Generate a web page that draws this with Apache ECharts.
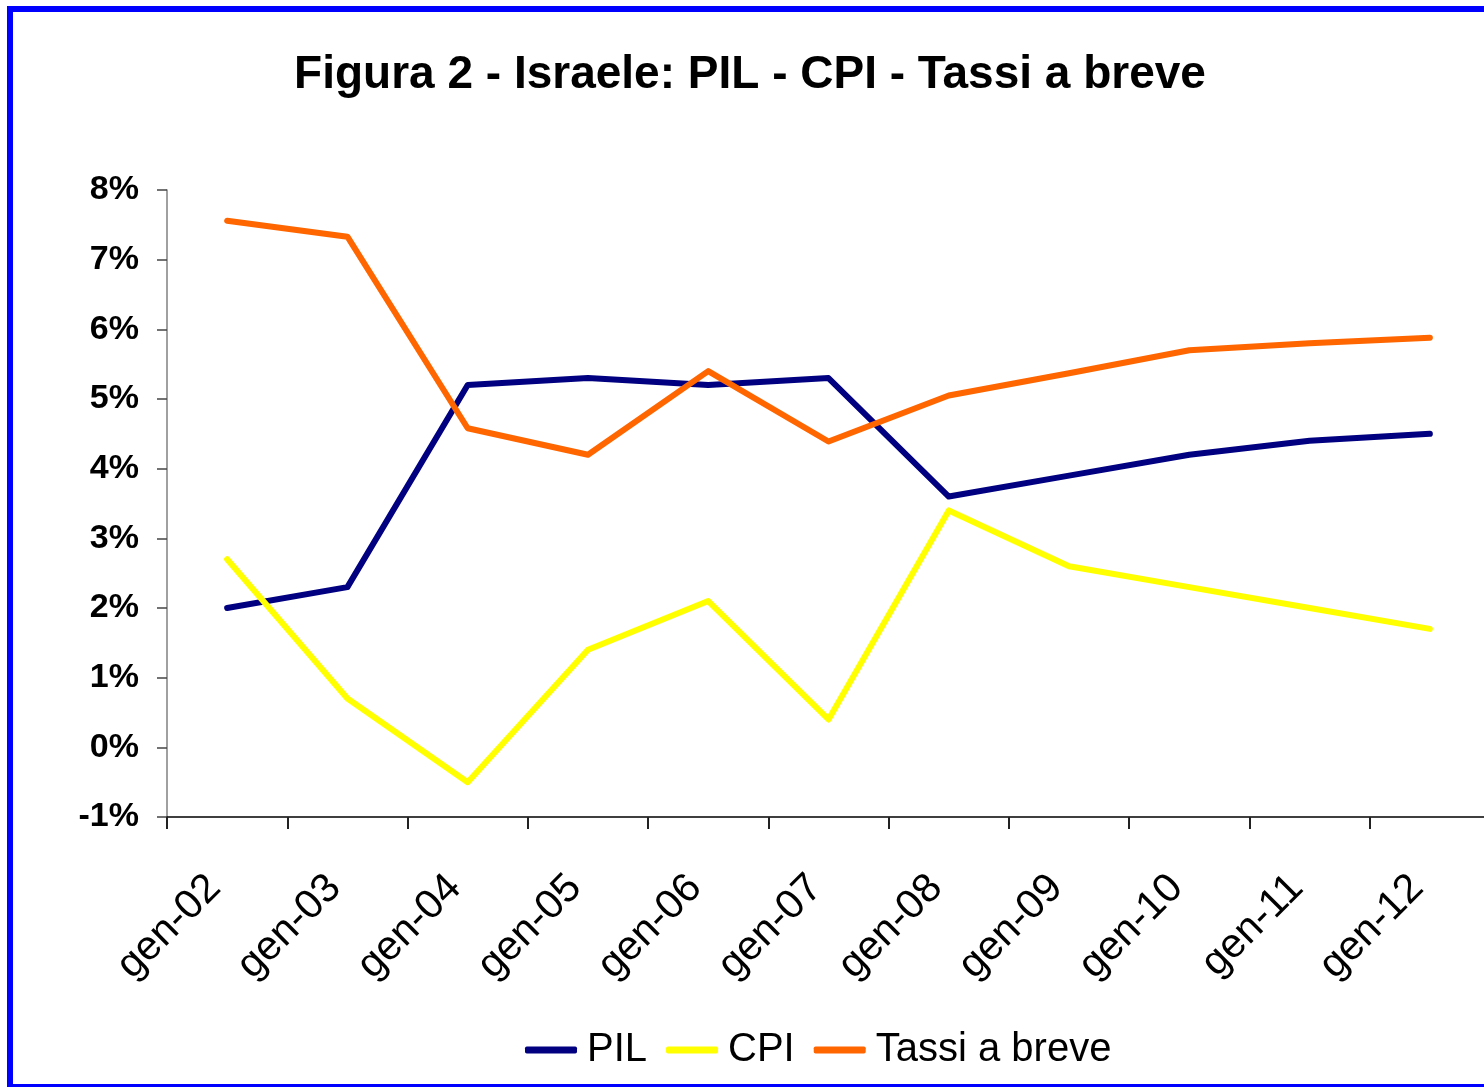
<!DOCTYPE html>
<html lang="it">
<head>
<meta charset="UTF-8">
<title>Figura 2 - Israele</title>
<script src="https://cdn.jsdelivr.net/npm/echarts@6/dist/echarts.min.js"></script>
<style>
  html, body { margin: 0; padding: 0; overflow: hidden; background: #fff; }
  #frame { position: absolute; left: 7px; top: 6px; width: 1520px; height: 1072px; border: 6px solid #0000ff; border-bottom-width: 3px; }
  #chart { position: absolute; left: 0; top: 0; width: 1500px; height: 1087px; }
</style>
</head>
<body>
<div id="chart"></div>
<div id="frame"></div>
<script type="text/javascript">
    var anni = ['gen-02', 'gen-03', 'gen-04', 'gen-05', 'gen-06', 'gen-07', 'gen-08', 'gen-09', 'gen-10', 'gen-11', 'gen-12'];
    var pil = [2.0, 2.3, 5.2, 5.3, 5.2, 5.3, 3.6, 3.9, 4.2, 4.4, 4.5];
    var cpi = [2.7, 0.7, -0.5, 1.4, 2.1, 0.4, 3.4, 2.6, 2.3, 2.0, 1.7];
    var tassi = [7.56, 7.33, 4.58, 4.2, 5.4, 4.39, 5.05, 5.37, 5.7, 5.8, 5.88];

    var font = '"Liberation Sans", Arial, sans-serif';
    var myChart = echarts.init(document.getElementById('chart'));

    function serie(nome, dati, colore) {
        return {
            name: nome,
            type: 'line',
            data: dati,
            symbol: 'none',
            lineStyle: { color: colore, width: 6, cap: 'round', join: 'round' },
            itemStyle: { color: colore },
            animation: false
        };
    }

    myChart.setOption({
        title: {
            text: 'Figura 2 - Israele: PIL - CPI - Tassi a breve',
            left: 'center',
            top: 47,
            textStyle: { fontFamily: font, fontSize: 46, fontWeight: 'bold', color: '#000' }
        },
        legend: {
            left: 520,
            top: 1025,
            icon: 'roundRect',
            itemWidth: 52,
            itemHeight: 7,
            itemGap: 19,
            textStyle: { fontFamily: font, fontSize: 40, color: '#000', padding: [0, 0, 0, 5] },
            data: ['PIL', 'CPI', 'Tassi a breve']
        },
        grid: { left: 167, top: 190, right: 10, bottom: 270 },
        xAxis: {
            type: 'category',
            data: anni,
            boundaryGap: true,
            axisLine: { onZero: false, lineStyle: { color: '#000', width: 1.5 } },
            axisTick: { show: true, length: 12, lineStyle: { color: '#222', width: 2 } },
            axisLabel: { rotate: 45, margin: 52, padding: [0, 18, 0, 0], fontFamily: font, fontSize: 41, color: '#000' },
            splitLine: { show: false }
        },
        yAxis: {
            type: 'value',
            min: -1,
            max: 8,
            interval: 1,
            axisLine: { show: true, lineStyle: { color: '#808080', width: 1.5 } },
            axisTick: { show: true, length: 10, lineStyle: { color: '#444', width: 1.5 } },
            axisLabel: {
                margin: 28,
                fontFamily: font,
                fontSize: 34,
                fontWeight: 'bold',
                color: '#000',
                formatter: function (v) { return v + '%'; }
            },
            splitLine: { show: false }
        },
        series: [
            serie('PIL', pil, '#000080'),
            serie('CPI', cpi, '#ffff00'),
            serie('Tassi a breve', tassi, '#ff6600')
        ]
    });
</script>
</body>
</html>
